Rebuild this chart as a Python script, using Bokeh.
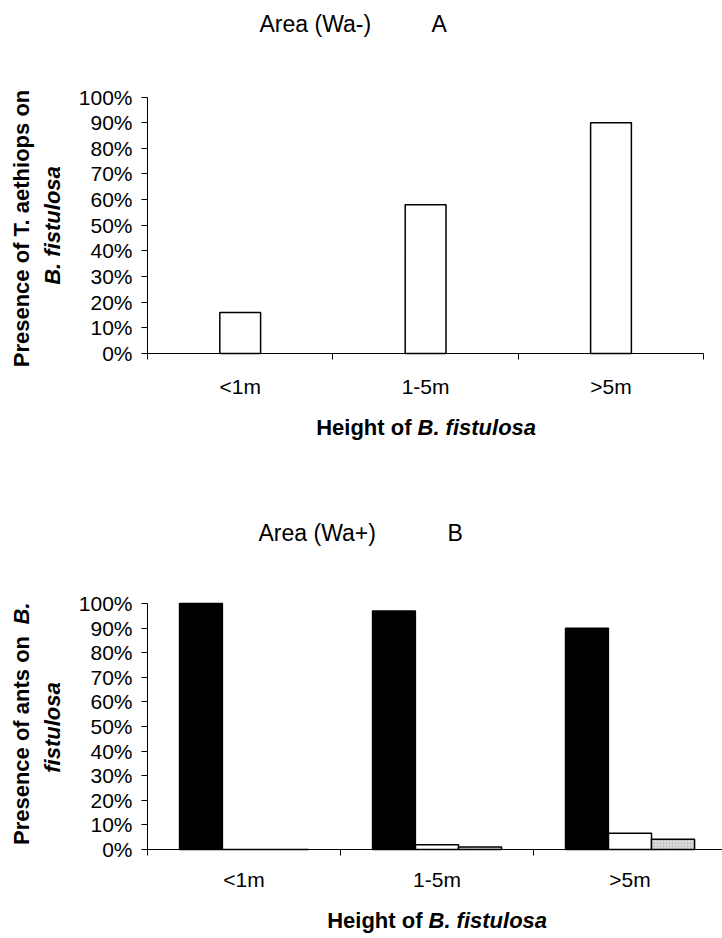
import math
from bokeh.plotting import figure
from bokeh.models import Range1d, FixedTicker, Label, ColumnDataSource, PrintfTickFormatter
from bokeh.layouts import column
from bokeh.transform import dodge
from bokeh.embed import file_html
from bokeh.resources import INLINE

# ---------------- data ----------------
categories = ["<1m", "1-5m", ">5m"]
y_ticks = [0, 10, 20, 30, 40, 50, 60, 70, 80, 90, 100]

# Chart A: Area (Wa-) - presence of T. aethiops on B. fistulosa (%)
presence_t_aethiops = [16, 58, 90]

# Chart B: Area (Wa+) - presence of ants on B. fistulosa (%)
ants_black = [100, 97, 90]
ants_white = [0, 1.9, 6.6]
ants_stippled = [0, 1.0, 4.2]

FONT = "Liberation Sans"
TICK_SIZE = "21px"
TITLE_SIZE = "23px"
AXT_SIZE = "22px"
PAGE_W = 722


def make_fig(top_px, height, x_left_px, ppu_x, y0_px, ppu_y):
    """Figure whose frame fills the whole canvas; page pixel layout mapped to data."""
    xs = -0.5 - x_left_px / ppu_x
    xe = -0.5 + (PAGE_W - x_left_px) / ppu_x
    ye = (y0_px - top_px) / ppu_y
    ys = (y0_px - (top_px + height)) / ppu_y
    p = figure(width=PAGE_W, height=height, x_range=Range1d(xs, xe), y_range=Range1d(ys, ye),
               output_backend="svg", toolbar_location=None, min_border=0)
    p.xgrid.visible = False
    p.ygrid.visible = False
    p.outline_line_color = None
    p.background_fill_color = "white"
    p.border_fill_color = "white"
    n = len(categories)
    # y axis
    p.yaxis.fixed_location = -0.5
    p.yaxis.bounds = (0, 100)
    p.yaxis.ticker = FixedTicker(ticks=y_ticks, minor_ticks=[])
    p.yaxis.formatter = PrintfTickFormatter(format="%d%%")
    p.yaxis.major_tick_out = 6
    p.yaxis.major_tick_in = 0
    p.yaxis.minor_tick_line_color = None
    p.yaxis.major_label_standoff = 9
    # x axis: labels at category centres, tick marks between categories
    p.xaxis.fixed_location = 0
    p.xaxis.bounds = (-0.5, n - 0.5)
    p.xaxis.ticker = FixedTicker(ticks=list(range(n)), minor_ticks=[i - 0.5 for i in range(n + 1)])
    p.xaxis.major_label_overrides = {i: c for i, c in enumerate(categories)}
    p.xaxis.major_tick_line_color = None
    p.xaxis.major_tick_out = 0
    p.xaxis.major_tick_in = 0
    p.xaxis.minor_tick_out = 6
    p.xaxis.minor_tick_in = 0
    p.xaxis.minor_tick_line_color = "black"
    for ax in (p.xaxis, p.yaxis):
        ax.axis_line_color = "black"
        ax.axis_line_width = 1
        ax.major_label_text_font = FONT
        ax.major_label_text_font_size = TICK_SIZE
        ax.major_label_text_color = "black"
    conv_x = lambda px: -0.5 + (px - x_left_px) / ppu_x
    conv_y = lambda py: (y0_px - py) / ppu_y
    return p, conv_x, conv_y


def lab(p, x, y, text, size, style_="normal", angle=0.0, align="left"):
    p.add_layout(Label(x=x, y=y, text=text, text_font=FONT, text_font_size=size,
                       text_font_style=style_, text_color="black", angle=angle,
                       text_align=align, text_baseline="middle"))


# ---------------- chart A ----------------
H_A = 468
pa, ax_, ay_ = make_fig(0, H_A, 147, 185.4, 353, 2.565)
pa.xaxis.major_label_standoff = 15

src_a = ColumnDataSource(dict(x=list(range(len(categories))), v=presence_t_aethiops))
pa.vbar(x="x", top="v", bottom=0, width=0.22, source=src_a,
        fill_color="white", line_color="black", line_width=1.5)

lab(pa, ax_(259), ay_(23), "Area (Wa-)", TITLE_SIZE)
lab(pa, ax_(431), ay_(23), "A", TITLE_SIZE)
lab(pa, ax_(21), ay_(228), "Presence of T. aethiops on", AXT_SIZE, "bold", math.pi / 2, "center")
lab(pa, ax_(52), ay_(225), "B. fistulosa", AXT_SIZE, "bold italic", math.pi / 2, "center")
lab(pa, ax_(411), ay_(427), "Height of", AXT_SIZE, "bold", 0.0, "right")
lab(pa, ax_(417), ay_(427), "B. fistulosa", AXT_SIZE, "bold italic", 0.0, "left")

# ---------------- chart B ----------------
H_B = 938 - H_A
pb, bx_, by_ = make_fig(H_A, H_B, 147, 193.0, 849, 2.46)
pb.xaxis.major_label_standoff = 12

src_b = ColumnDataSource(dict(x=list(range(len(categories))), black=ants_black,
                              white=ants_white, stip=ants_stippled))
W = 0.223
pb.vbar(x=dodge("x", -W, range=pb.x_range), top="black", bottom=0, width=W, source=src_b,
        fill_color="black", line_color="black", line_width=1.3)
pb.vbar(x=dodge("x", 0.0, range=pb.x_range), top="white", bottom=0, width=W, source=src_b,
        fill_color="white", line_color="black", line_width=1.5)
pb.vbar(x=dodge("x", W, range=pb.x_range), top="stip", bottom=0, width=W, source=src_b,
        fill_color="#c8c8c8", hatch_pattern="dot", hatch_color="white", hatch_scale=3,
        hatch_weight=1, line_color="black", line_width=1.5)

lab(pb, bx_(258), by_(532), "Area (Wa+)", TITLE_SIZE)
lab(pb, bx_(447), by_(532), "B", TITLE_SIZE)
lab(pb, bx_(21), by_(740), "Presence of ants on", AXT_SIZE, "bold", math.pi / 2, "center")
lab(pb, bx_(21), by_(613), "B.", AXT_SIZE, "bold italic", math.pi / 2, "center")
lab(pb, bx_(52), by_(727), "fistulosa", AXT_SIZE, "bold italic", math.pi / 2, "center")
lab(pb, bx_(422), by_(920), "Height of", AXT_SIZE, "bold", 0.0, "right")
lab(pb, bx_(428), by_(920), "B. fistulosa", AXT_SIZE, "bold italic", 0.0, "left")

layout = column(pa, pb)
open("out.html", "w").write(file_html(layout, INLINE))
